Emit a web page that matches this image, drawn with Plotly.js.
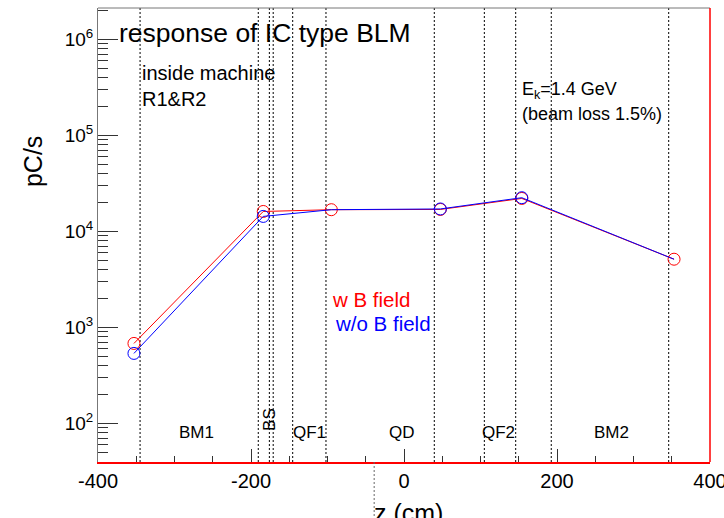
<!DOCTYPE html>
<html><head><meta charset="utf-8">
<script src="https://cdn.plot.ly/plotly-3.0.1.min.js"></script>
<style>html,body{margin:0;padding:0;background:#fff;}</style>
</head><body><div id="chart" style="width:724px;height:518px;"></div>
<script>
// ---- data ----
const zPositions = [-353, -184, -95, 47.5, 154, 353];
const withBField = [682, 16100, 16800, 16900, 22000, 5130];
const withoutBField = [537, 14300, 16800, 17100, 22400, 5130];
const boundaries = [-345, -190.5, -176, -171, -145.5, -102, 39.6, 105, 146, 192.5, 346];
const belowAxisLine = [-39];
const elementNames = ['BM1', 'BS', 'QF1', 'QD', 'QF2', 'BM2'];
const elementCenters = [-271, -175, -123, -3, 124, 271];
const xTickVals = [-400, -200, 0, 200, 400];
const xTickText = ['-400', '-200', '0', '200', '400'];
const xMinorVals = [-350, -300, -250, -150, -100, -50, 50, 100, 150, 250, 300, 350];
const yTickVals = [1e2, 1e3, 1e4, 1e5, 1e6];
const yTickText = ['10<sup>2</sup>', '10<sup>3</sup>', '10<sup>4</sup>', '10<sup>5</sup>', '10<sup>6</sup>'];

const FONT = 'Liberation Sans, Arial, Helvetica, sans-serif';

const yMinorVals = [];
for (let e = 1; e <= 6; e++) for (let m = 2; m <= 9; m++) yMinorVals.push(m * Math.pow(10, e));

// blue markers hidden where the red circle is drawn on top in the reference
const blueMarkerOpacity = zPositions.map((z, i) => (i === 2 || i === zPositions.length - 1) ? 0 : 1);

const traces = [
  {x: zPositions, y: withBField, mode: 'lines+markers', name: 'w B field',
   line: {color: '#ff0000', width: 1}, marker: {symbol: 'circle-open', size: 12, color: '#ff0000', line: {width: 1}}},
  {x: zPositions, y: withoutBField, mode: 'lines+markers', name: 'w/o B field',
   line: {color: '#0000ff', width: 1}, marker: {symbol: 'circle-open', size: 12, color: '#0000ff', opacity: blueMarkerOpacity, line: {width: 1}}}
];

const shapes = [];
boundaries.forEach(b => shapes.push({type: 'line', xref: 'x', yref: 'paper', x0: b, x1: b, y0: 0, y1: 1,
  line: {color: '#000', width: 1, dash: '2px,2px'}, layer: 'below'}));
belowAxisLine.forEach(b => shapes.push({type: 'line', xref: 'x', yref: 'paper', x0: b, x1: b, y0: 0, y1: -0.14,
  line: {color: '#666', width: 1, dash: '2px,2px'}}));
shapes.push({type: 'line', xref: 'paper', yref: 'paper', x0: 0, x1: 1, y0: 1, y1: 1, line: {color: '#777', width: 1}});
shapes.push({type: 'line', xref: 'paper', yref: 'paper', x0: 1, x1: 1, y0: 0, y1: 1, line: {color: '#ff0000', width: 1.5}});

const annotations = [
  {text: 'response of IC type BLM', xref: 'paper', yref: 'paper', x: 0.0310, y: 0.946, xanchor: 'left', yanchor: 'middle', showarrow: false, font: {size: 26.5, color: '#000'}},
  {text: 'inside machine', xref: 'paper', yref: 'paper', x: 0.068, y: 0.857, xanchor: 'left', yanchor: 'middle', showarrow: false, font: {size: 20, color: '#000'}},
  {text: 'R1&amp;R2', xref: 'paper', yref: 'paper', x: 0.068, y: 0.80, xanchor: 'left', yanchor: 'middle', showarrow: false, font: {size: 20, color: '#000'}},
  {text: 'E<sub>k</sub>=1.4 GeV', xref: 'paper', yref: 'paper', x: 0.69, y: 0.819, xanchor: 'left', yanchor: 'middle', showarrow: false, font: {size: 18, color: '#000'}},
  {text: '(beam loss 1.5%)', xref: 'paper', yref: 'paper', x: 0.69, y: 0.766, xanchor: 'left', yanchor: 'middle', showarrow: false, font: {size: 18, color: '#000'}},
  {text: 'w B field', xref: 'paper', yref: 'paper', x: 0.3788, y: 0.357, xanchor: 'left', yanchor: 'middle', showarrow: false, font: {size: 20.5, color: '#ff0000'}},
  {text: 'w/o B field', xref: 'paper', yref: 'paper', x: 0.3837, y: 0.304, xanchor: 'left', yanchor: 'middle', showarrow: false, font: {size: 20.5, color: '#0000ff'}},
  {text: 'pC/s', xref: 'paper', yref: 'paper', x: -0.106, y: 0.661, xanchor: 'center', yanchor: 'middle', textangle: -90, showarrow: false, font: {size: 25, color: '#000'}},
  {text: 'z (cm)', xref: 'paper', yref: 'paper', x: 0.447, y: -0.078, xanchor: 'left', yanchor: 'top', showarrow: false, font: {size: 25, color: '#000'}}
];
elementNames.forEach((n, i) => {
  const rot = n === 'BS';
  annotations.push({text: n, xref: 'x', yref: 'paper', x: elementCenters[i], y: rot ? 0.093 : 0.066,
    xanchor: 'center', yanchor: 'middle', textangle: rot ? -90 : 0, showarrow: false, font: {size: 17, color: '#000'}});
});

const layout = {
  width: 724, height: 518,
  margin: {l: 98, r: 14, t: 8, b: 56, pad: 0},
  paper_bgcolor: '#fff', plot_bgcolor: '#fff',
  font: {family: FONT, color: '#000'},
  showlegend: false,
  xaxis: {range: [-400, 400], showgrid: false, zeroline: false, showline: true, linecolor: '#ff0000', linewidth: 1.5,
    ticks: 'inside', ticklen: 13, tickcolor: '#333', tickwidth: 1, tickmode: 'array', tickvals: xTickVals, ticktext: xTickText,
    ticklabeloverflow: 'allow', tickfont: {size: 20, color: '#000'},
    minor: {tickmode: 'array', tickvals: xMinorVals, ticks: 'inside', ticklen: 6, tickcolor: '#333', showgrid: false}},
  yaxis: {type: 'log', range: [1.6, 6.324], showgrid: false, zeroline: false, showline: true, linecolor: '#777', linewidth: 1,
    ticks: 'inside', ticklen: 20, tickcolor: '#333', tickwidth: 1, tickmode: 'array', tickvals: yTickVals, ticktext: yTickText,
    tickfont: {size: 19, color: '#000'},
    minor: {tickmode: 'array', tickvals: yMinorVals, ticks: 'inside', ticklen: 10, tickcolor: '#333', showgrid: false}},
  shapes: shapes,
  annotations: annotations
};

Plotly.newPlot('chart', traces, layout, {displayModeBar: false, staticPlot: true});
</script></body></html>
